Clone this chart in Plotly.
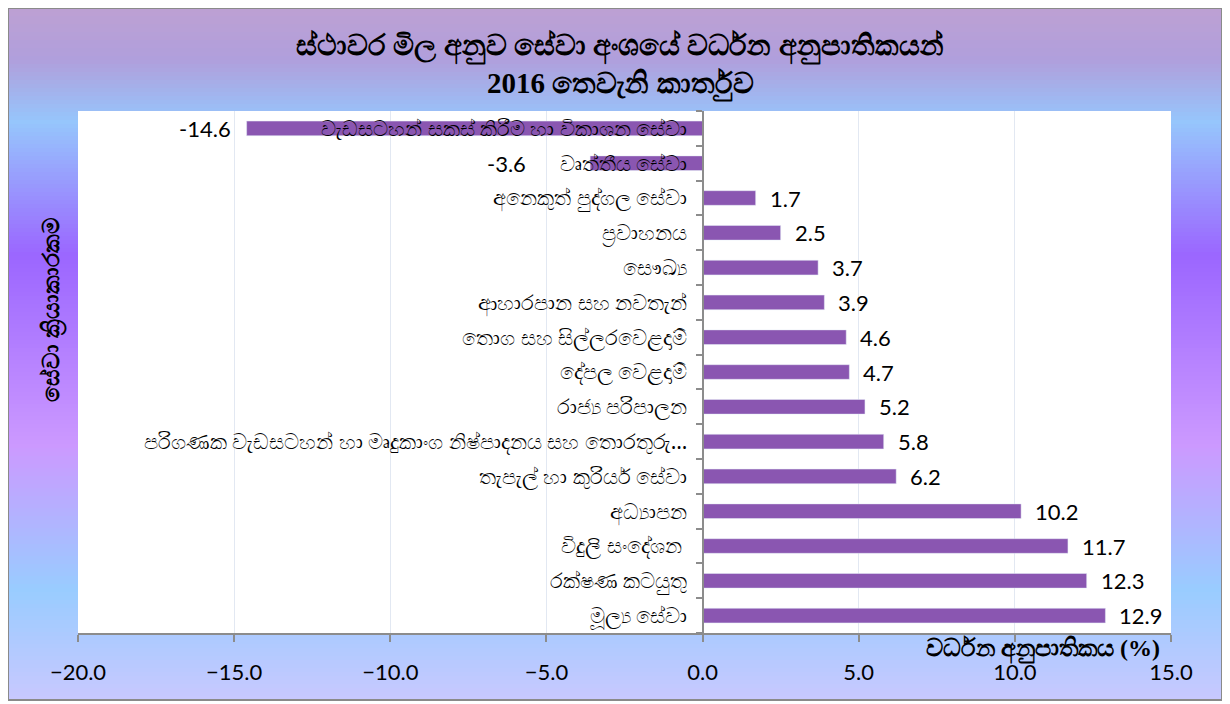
import plotly.graph_objects as go

# Data (bottom to top, as plotted)
sectors = [
    'මූල්‍ය සේවා',
    'රක්ෂණ කටයුතු',
    'විදුලි සංදේශන ',
    'අධ්‍යාපන',
    'තැපැල් හා කුරියර් සේවා',
    'පරිගණක වැඩසටහන් හා මෘදුකාංග නිෂ්පාදනය සහ තොරතුරු…',
    'රාජ්‍ය පරිපාලන',
    'දේපල වෙළදාම්',
    'තොග සහ සිල්ලරවෙළදාම්',
    'ආහාරපාන සහ නවතැන්',
    'සෞඛ්‍ය',
    'ප්‍රවාහනය',
    'අනෙකුත් පුද්ගල සේවා',
    'වෘත්තීය සේවා',
    'වැඩසටහන් සකස් කිරීම හා විකාශන සේවා',
]
growth = [12.9, 12.3, 11.7, 10.2, 6.2, 5.8, 5.2, 4.7, 4.6, 3.9, 3.7, 2.5, 1.7, -3.6, -14.6]
xticks = [-20, -15, -10, -5, 0, 5, 10, 15]

title1 = 'ස්ථාවර මිල අනුව සේවා අංශයේ වර්ධන අනුපාතිකයන්'
title2 = '2016 තෙවැනි කාර්තුව'
ytitle = 'සේවා ක්‍රියාකාරකම'
xtitle = 'වර්ධන අනුපාතිකය (%)'

# the page puts the figure 8px in from the top-left corner
OFF = 8
W, H = 1230, 704
L, R, T, B = 70, 67, 103, 79
pw, ph = W - L - R, H - T - B

def xp(px):
    # page pixel -> paper x
    return (px - OFF - L) / pw

def yp(py):
    # page pixel -> paper y
    return (H - B - (py - OFF)) / ph

# background gradient (Excel style fill), page pixel rows
stops = [
    (8, (189, 160, 211)),
    (60, (176, 159, 220)),
    (122, (150, 198, 252)),
    (255, (155, 102, 255)),
    (445, (204, 153, 255)),
    (590, (153, 204, 255)),
    (700, (200, 200, 255)),
]

def colour_at(py):
    for (y0, c0), (y1, c1) in zip(stops[:-1], stops[1:]):
        if y0 <= py <= y1:
            f = (py - y0) / (y1 - y0)
            c = [round(a + (b - a) * f) for a, b in zip(c0, c1)]
            return 'rgb(%d,%d,%d)' % tuple(c)
    return 'rgb(%d,%d,%d)' % stops[-1][1]

shapes = []
step = 4
for py in range(8, 700, step):
    shapes.append(dict(
        type='rect', xref='paper', yref='paper', layer='below',
        x0=xp(8), x1=xp(1222), y0=yp(py + step + 0.5), y1=yp(py),
        fillcolor=colour_at(py + step / 2), line_width=0,
    ))
shapes.append(dict(type='rect', xref='paper', yref='paper', layer='below',
                   x0=0, x1=1, y0=0, y1=1, fillcolor='white', line_width=0))
shapes.append(dict(type='rect', xref='paper', yref='paper', layer='below',
                   x0=xp(8), x1=xp(1222), y0=yp(700), y1=yp(8),
                   line=dict(color='#8a8a8a', width=2)))

fig = go.Figure()
fig.add_trace(go.Bar(
    x=growth, y=sectors, orientation='h',
    marker_color='#8a56b1',
    cliponaxis=False,
))

fig.update_layout(
    width=W, height=H,
    margin=dict(l=L, r=R, t=T, b=B),
    paper_bgcolor='white',
    plot_bgcolor='white',
    showlegend=False,
    bargap=0.58,
    shapes=shapes,
    font=dict(family='Noto Sans, sans-serif', color='black'),
)

fig.update_xaxes(
    range=[-20, 15], tickvals=xticks, tickformat='.1f',
    showgrid=True, gridcolor='#e2e8f2', gridwidth=1,
    zeroline=False,
    showline=True, linecolor='#8c8c8c', linewidth=2,
    ticks='outside', ticklen=7, tickcolor='#8c8c8c', tickwidth=2,
    ticklabelstandoff=12,
    tickfont=dict(size=22, family='Lato, Noto Sans, sans-serif', color='black'),
)
fig.update_yaxes(
    anchor='free', position=20 / 35,
    showline=True, linecolor='#8c8c8c', linewidth=2,
    ticks='outside', tickson='boundaries', ticklen=6, tickcolor='#8c8c8c', tickwidth=2,
    ticklabelstandoff=10,
    tickfont=dict(size=21, color='black'),
    showgrid=False,
)

# data labels, set a little away from the bar ends
# (the -3.6 label sits further left, clear of its category name, as in the source)
for name, v in zip(sectors, growth):
    shift = 12 if v >= 0 else -14
    if name == 'වෘත්තීය සේවා':
        shift -= 48
    fig.add_annotation(
        x=v, y=name, xref='x', yref='y', text='%.1f' % v,
        xanchor='left' if v >= 0 else 'right', yanchor='middle',
        xshift=shift, showarrow=False,
        font=dict(size=22, color='black', family='Lato, Noto Sans, sans-serif'),
    )

# titles
fig.add_annotation(text='<b>' + title1 + '</b>', xref='paper', yref='paper',
                   x=xp(620), y=yp(47), xanchor='center', yanchor='middle',
                   showarrow=False,
                   font=dict(size=29, color='black', family='Liberation Serif, serif'))
fig.add_annotation(text='<b>' + title2 + '</b>', xref='paper', yref='paper',
                   x=xp(620), y=yp(84), xanchor='center', yanchor='middle',
                   showarrow=False,
                   font=dict(size=29, color='black', family='Liberation Serif, serif'))
fig.add_annotation(text='<b>' + ytitle + '</b>', textangle=-90,
                   xref='paper', yref='paper', x=xp(50), y=yp(310),
                   xanchor='center', yanchor='middle',
                   showarrow=False, font=dict(size=23, color='black'))
fig.add_annotation(text='<b>' + xtitle + '</b>',
                   xref='paper', yref='paper', x=xp(1162), y=yp(633),
                   xanchor='right', yanchor='top',
                   showarrow=False, font=dict(size=24, color='black',
                                              family='Liberation Serif, serif'))

fig.write_html('out.html')
